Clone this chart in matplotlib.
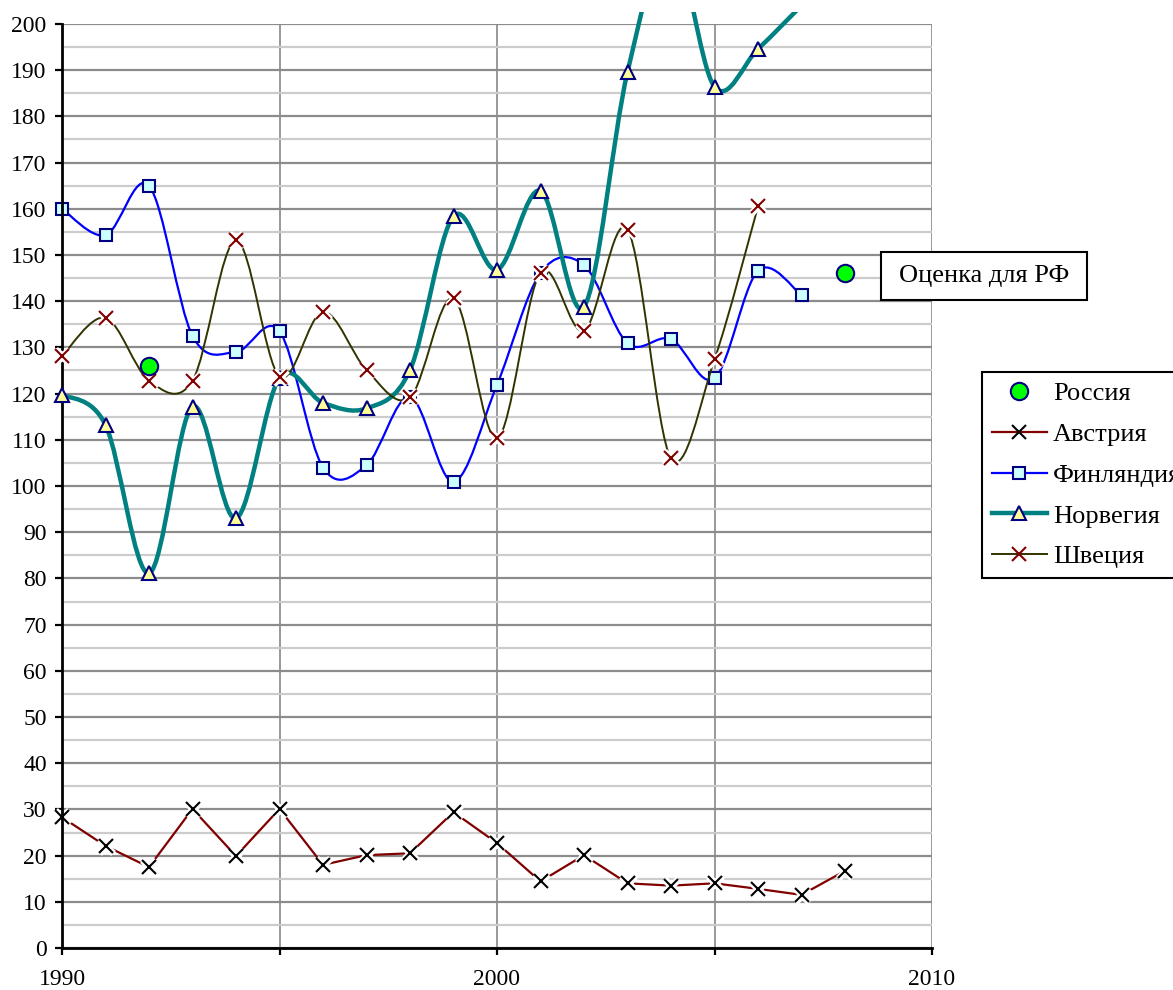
import numpy as np
import matplotlib
matplotlib.use("Agg")
import matplotlib.pyplot as plt
from matplotlib.path import Path
from matplotlib.patches import PathPatch, Rectangle
from matplotlib.lines import Line2D
from matplotlib.ticker import MultipleLocator

plt.rcParams['font.family'] = ['Liberation Serif', 'DejaVu Serif']

# ---------------- data ----------------
russia_years = [1992, 2008]
russia = [126.0, 146.2]

austria_years = list(range(1990, 2009))
austria = [28.3, 22.1, 17.5, 30.1, 19.9, 30.1, 18.0, 20.1, 20.5, 29.4,
           22.7, 14.4, 20.1, 14.0, 13.5, 14.0, 12.8, 11.5, 16.7]

finland_years = list(range(1990, 2008))
finland = [160.0, 154.3, 165.0, 132.5, 129.0, 133.5, 104.0, 104.5, 119.3, 100.9,
           121.9, 146.1, 147.8, 130.9, 131.8, 123.3, 146.6, 141.3]

norway_years = list(range(1990, 2008))
norway = [119.8, 113.2, 81.1, 117.2, 93.0, 123.4, 118.0, 116.8, 125.1, 158.4,
          146.8, 163.9, 138.8, 189.6, 218.0, 186.4, 194.6, 204.0]

sweden_years = list(range(1990, 2007))
sweden = [128.1, 136.4, 122.8, 122.8, 153.2, 123.7, 137.7, 125.1, 119.2, 140.6,
          110.3, 146.2, 133.6, 155.5, 106.0, 127.4, 160.5]

x_tick_vals = [1990, 1995, 2000, 2005, 2010]
x_tick_labels = ['1990', '', '2000', '', '2010']
legend_labels = ['Россия', 'Австрия', 'Финляндия', 'Норвегия', 'Швеция']
annotation_text = 'Оценка для РФ'

YMAX = 200

# ---------------- figure ----------------
W, H = 1173, 990
fig = plt.figure(figsize=(W / 100, H / 100), dpi=100)
ax = fig.add_axes([62 / W, 42 / H, (932 - 62) / W, (948 - 24) / H])
ax.set_xlim(1990, 2010)
ax.set_ylim(0, YMAX)

# grid
ax.yaxis.set_major_locator(MultipleLocator(10))
ax.yaxis.set_minor_locator(MultipleLocator(5))
ax.set_axisbelow(True)
ax.grid(axis='y', which='minor', color='#cccccc', lw=1.6, zorder=0)
ax.grid(axis='y', which='major', color='#8c8c8c', lw=1.6, zorder=0)
ax.grid(axis='x', which='major', color='#999999', lw=1.4, zorder=0)

ax.set_xticks(x_tick_vals)
ax.set_xticklabels(x_tick_labels)
ax.tick_params(axis='both', which='major', direction='out', length=5, width=1.6,
               labelsize=17, color='black')
ax.tick_params(axis='y', which='minor', length=0)
ax.tick_params(axis='y', pad=6)
ax.tick_params(axis='x', pad=10)

for s in ['top', 'right']:
    ax.spines[s].set_visible(False)
for s in ['left', 'bottom']:
    ax.spines[s].set_linewidth(2)
    ax.spines[s].set_color('black')
    ax.spines[s].set_zorder(5)


def smooth_path(xs, ys):
    pts = np.column_stack([xs, ys]).astype(float)
    n = len(pts)
    verts = [pts[0]]
    codes = [Path.MOVETO]
    for i in range(n - 1):
        p0 = pts[i - 1] if i > 0 else pts[i]
        p1 = pts[i]
        p2 = pts[i + 1]
        p3 = pts[i + 2] if i + 2 < n else pts[i + 1]
        c1 = p1 + (p2 - p0) / 6.0
        c2 = p2 - (p3 - p1) / 6.0
        verts += [c1, c2, p2]
        codes += [Path.CURVE4] * 3
    return Path(verts, codes)


clip_rect = Rectangle((0, 0), 1, 1.013, transform=ax.transAxes)


def draw_smooth(xs, ys, color, lw, z):
    patch = PathPatch(smooth_path(xs, ys), fill=False, edgecolor=color, lw=lw,
                      joinstyle='round', capstyle='round', zorder=z)
    ax.add_patch(patch)
    patch.set_clip_path(clip_rect)


def visible(vals):
    a = np.asarray(vals, dtype=float)
    return np.where(a <= YMAX, a, np.nan)


X_MS = 10
# Austria (straight lines)
ax.plot(austria_years, austria, color='#800000', lw=1.6, zorder=3)
ax.plot(austria_years, austria, ls='none', marker='x', ms=X_MS, mew=5, color='white',
        zorder=3.1, clip_on=False)
ax.plot(austria_years, austria, ls='none', marker='x', ms=X_MS, mew=1.5, color='black',
        zorder=3.2, clip_on=False)

# Finland
draw_smooth(finland_years, finland, '#0000ff', 1.6, 4)
ax.plot(finland_years, visible(finland), ls='none', marker='s', ms=8, mew=1.5,
        mfc='#ccffff', mec='#000080', zorder=4.2, clip_on=False)

# Norway
draw_smooth(norway_years, norway, '#008080', 3.2, 5)
ax.plot(norway_years, visible(norway), ls='none', marker='^', ms=9.5, mew=1.5,
        mfc='#ffff99', mec='#000080', zorder=5.2, clip_on=False)

# Sweden
draw_smooth(sweden_years, sweden, '#333300', 1.4, 6)
ax.plot(sweden_years, visible(sweden), ls='none', marker='x', ms=X_MS, mew=5, color='white',
        zorder=6.1, clip_on=False)
ax.plot(sweden_years, visible(sweden), ls='none', marker='x', ms=X_MS, mew=1.5,
        color='#800000', zorder=6.2, clip_on=False)

# Russia
ax.plot(russia_years, russia, ls='none', marker='o', ms=12.5, mew=1.5,
        mfc='#00ff00', mec='#000080', zorder=7, clip_on=False)

# annotation box
bx0, bx1, by0, by1 = 881, 1087, 252, 300
fig.patches.append(Rectangle((bx0 / W, 1 - by1 / H), (bx1 - bx0) / W, (by1 - by0) / H,
                             transform=fig.transFigure, fc='white', ec='black', lw=1.5,
                             zorder=10))
fig.text((bx0 + bx1) / 2 / W, 1 - (by0 + by1) / 2 / H, annotation_text,
         ha='center', va='center', fontsize=19, zorder=11)

# legend
handles = [
    Line2D([], [], ls='none', marker='o', ms=12.5, mew=1.5, mfc='#00ff00', mec='#000080'),
    Line2D([], [], color='#800000', lw=1.6, marker='x', ms=X_MS, mew=1.5, mec='black'),
    Line2D([], [], color='#0000ff', lw=1.6, marker='s', ms=8, mew=1.5, mfc='#ccffff', mec='#000080'),
    Line2D([], [], color='#008080', lw=3.2, marker='^', ms=9.5, mew=1.5, mfc='#ffff99', mec='#000080'),
    Line2D([], [], color='#333300', lw=1.4, marker='x', ms=X_MS, mew=1.5, mec='#800000'),
]
leg = fig.legend(handles, legend_labels, loc='upper left',
                 bbox_to_anchor=(982 / W, 1 - 372 / H),
                 bbox_transform=fig.transFigure, borderaxespad=0, fontsize=19,
                 handlelength=2.08, handletextpad=0.23, labelspacing=0.655, borderpad=0.37,
                 numpoints=1, fancybox=False, shadow=False, framealpha=1)
leg.get_frame().set_edgecolor('black')
leg.get_frame().set_linewidth(1.5)

fig.savefig('out.png', dpi=100)
